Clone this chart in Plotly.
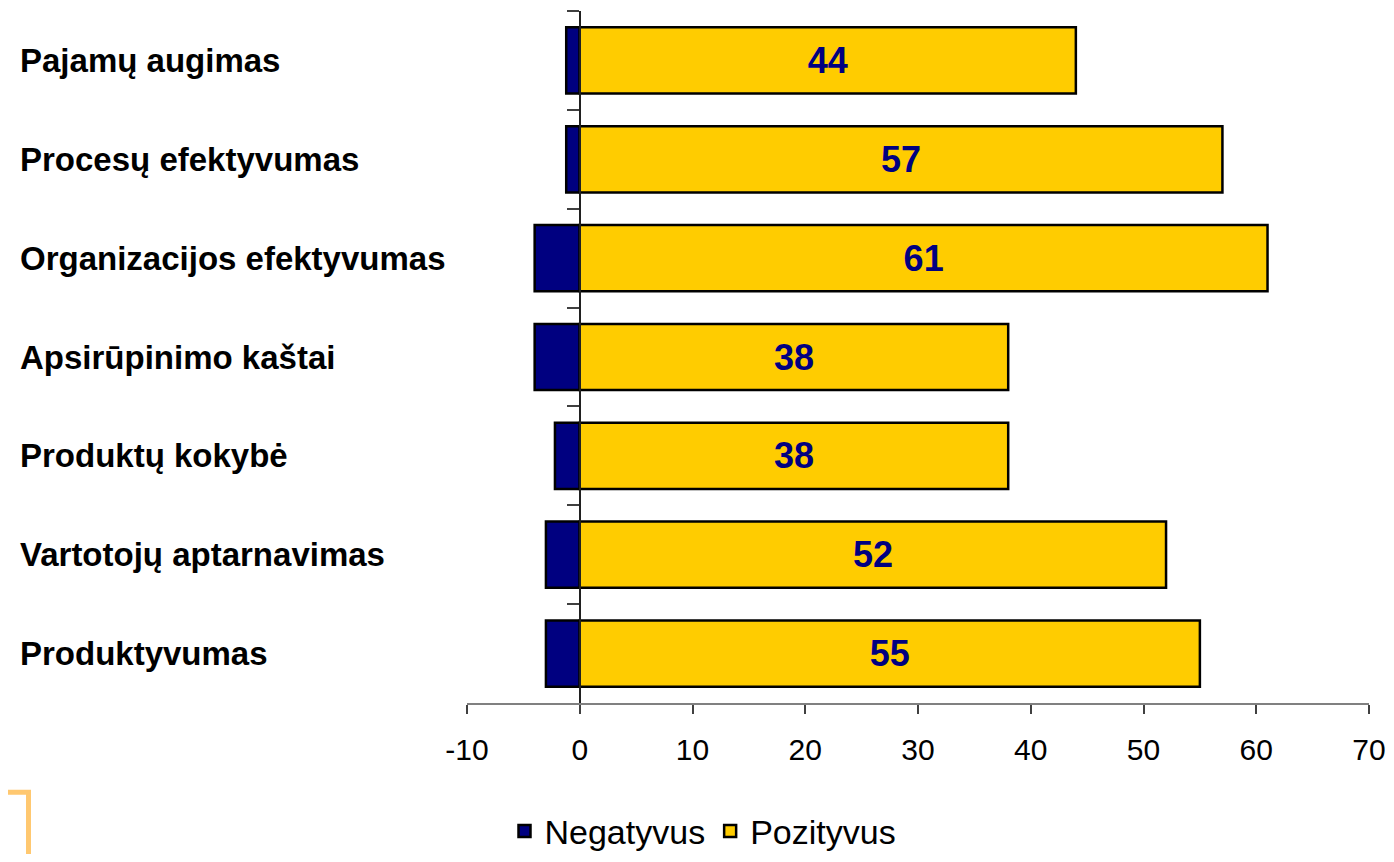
import plotly.graph_objects as go

categories = [
    "Pajamų augimas",
    "Procesų efektyvumas",
    "Organizacijos efektyvumas",
    "Apsirūpinimo kaštai",
    "Produktų kokybė",
    "Vartotojų aptarnavimas",
    "Produktyvumas",
]
negatyvus = [-1.2, -1.2, -4, -4, -2.2, -3, -3]
pozityvus = [44, 57, 61, 38, 38, 52, 55]
x_ticks = [-10, 0, 10, 20, 30, 40, 50, 60, 70]

# page body has an 8px margin; work in figure coordinates (page - 8)
OFF = 8
W, H = 1378, 846
L = 467 - OFF
T = 11 - OFF
plot_right = 1369 - OFF
plot_bottom = 702.7 - OFF
R = W - plot_right
B = H - plot_bottom
pw = W - L - R
ph = H - T - B


def px_x(px):
    return (px - OFF - L) / pw


def px_y(py):
    return (plot_bottom - (py - OFF)) / ph


fig = go.Figure()
fig.add_trace(go.Bar(
    name="Negatyvus", x=negatyvus, y=categories, orientation="h",
    marker=dict(color="#000080", line=dict(color="black", width=2.5)),
    hoverinfo="x+y",
))
fig.add_trace(go.Bar(
    name="Pozityvus", x=pozityvus, y=categories, orientation="h",
    marker=dict(color="#FFCC00", line=dict(color="black", width=2.5)),
    texttemplate="<b>%{x}</b>", textposition="inside", insidetextanchor="middle",
    textangle=0, constraintext="none",
    textfont=dict(family="Liberation Sans, Arial", size=36, color="#000080"),
))

for c in categories:
    fig.add_annotation(
        x=px_x(18), xref="paper", y=c, yref="y",
        text=f"<b>{c}</b>", showarrow=False, xanchor="left", yanchor="middle",
        font=dict(family="Liberation Sans, Arial", size=33, color="black"),
    )

fig.add_shape(
    type="path", xref="paper", yref="paper",
    path=f"M {px_x(-5)} {px_y(792)} L {px_x(28.5)} {px_y(792)} L {px_x(28.5)} {px_y(880)}",
    line=dict(color="#FFC870", width=5),
)

fig.update_layout(
    width=W, height=H,
    margin=dict(l=L, r=R, t=T, b=B, pad=0, autoexpand=False),
    plot_bgcolor="white", paper_bgcolor="white",
    barmode="relative", bargap=0.33,
    showlegend=True,
    legend=dict(
        orientation="h", x=px_x(703), xanchor="center",
        y=px_y(831), yanchor="middle",
        font=dict(family="Liberation Sans, Arial", size=34, color="black"),
        itemclick=False, bgcolor="rgba(0,0,0,0)",
    ),
    xaxis=dict(
        range=[-10, 70], tickvals=x_ticks, ticktext=[str(v) for v in x_ticks],
        showgrid=False, zeroline=False,
        showline=True, linecolor="#808080", linewidth=2,
        ticks="outside", ticklen=9, tickwidth=2, tickcolor="#404040",
        ticklabelstandoff=10, ticklabeloverflow="allow",
        tickfont=dict(family="Liberation Sans, Arial", size=30, color="black"),
    ),
    yaxis=dict(
        type="category", autorange="reversed",
        anchor="free", position=10 / 80,
        showline=True, linecolor="#202020", linewidth=1.5,
        ticks="outside", tickson="boundaries", ticklen=12, tickcolor="#404040", tickwidth=2,
        showticklabels=False, showgrid=False, zeroline=False,
    ),
)

fig.write_html("out.html")
